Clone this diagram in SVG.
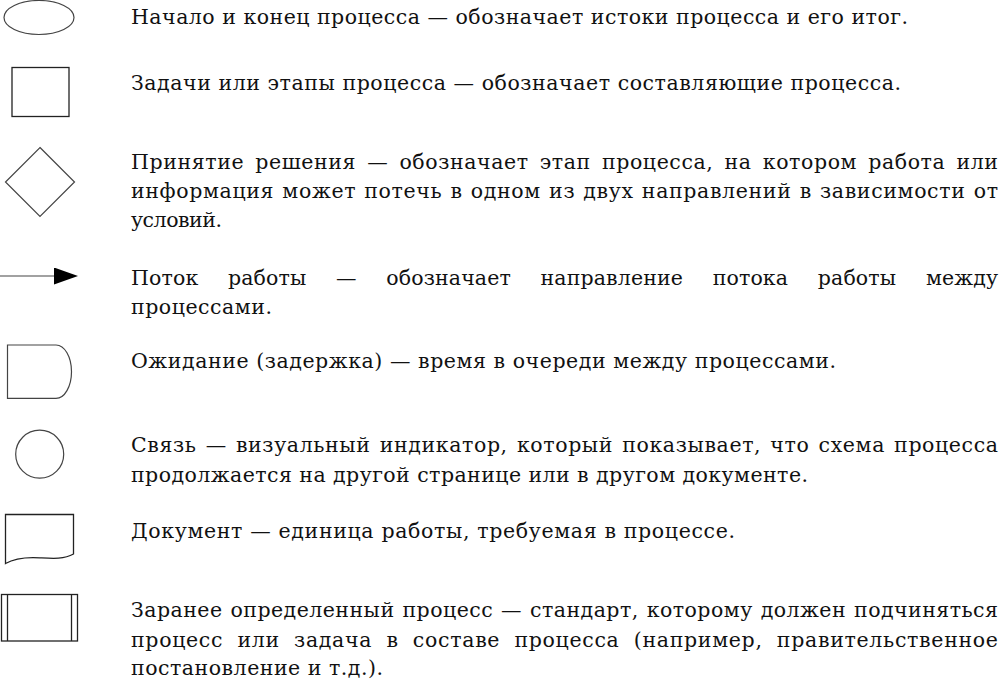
<svg xmlns="http://www.w3.org/2000/svg" width="1000" height="681" viewBox="0 0 1000 681">
<defs>
<style>
.sym{fill:#fff;stroke:#444;stroke-width:1.2}
.box{fill:#fff;stroke:#222;stroke-width:1.3}
.t{font-family:"DejaVu Serif","Liberation Serif",serif;font-size:20.5px;fill:#111}
.flow{stroke:#444;stroke-width:1.2;fill:none}
</style>
<marker id="ah" markerUnits="userSpaceOnUse" markerWidth="24" markerHeight="17" viewBox="0 0 24 17" refX="0" refY="8.5" orient="auto">
<path d="M0,0 L24,8.5 L0,17 Z" fill="#000"/>
</marker>
</defs>
<rect width="1000" height="681" fill="#fff"/>

<g id="terminator">
<ellipse class="sym" cx="39" cy="17.5" rx="35" ry="17"/>
<text class="t" x="131" y="24" textLength="777" lengthAdjust="spacing">Начало и конец процесса — обозначает истоки процесса и его итог.</text>
</g>

<g id="process">
<rect class="box" x="12" y="67.5" width="57" height="49"/>
<text class="t" x="131" y="90" textLength="770" lengthAdjust="spacing">Задачи или этапы процесса — обозначает составляющие процесса.</text>
</g>

<g id="decision">
<polygon class="sym" points="40,147.5 74.5,182 40,216.5 5.5,182"/>
<text class="t" x="131" y="169" word-spacing="4" textLength="867" lengthAdjust="spacing">Принятие решения — обозначает этап процесса, на котором работа или</text>
<text class="t" x="131" y="198" word-spacing="1" textLength="867" lengthAdjust="spacing">информация может потечь в одном из двух направлений в зависимости от</text>
<text class="t" x="131" y="227" textLength="91" lengthAdjust="spacing">условий.</text>
</g>

<g id="connectors">
<line class="flow" x1="0" y1="276" x2="54" y2="276" marker-end="url(#ah)"/>
</g>

<g id="flow-text">
<text class="t" x="131" y="285" word-spacing="23" textLength="867" lengthAdjust="spacing">Поток работы — обозначает направление потока работы между</text>
<text class="t" x="131" y="314" textLength="141" lengthAdjust="spacing">процессами.</text>
</g>

<g id="delay">
<path class="sym" d="M7.5,345 H56 A15.5,26.7 0 0 1 56,398.4 H7.5 Z"/>
<text class="t" x="131" y="368" textLength="705" lengthAdjust="spacing">Ожидание (задержка) — время в очереди между процессами.</text>
</g>

<g id="connector">
<circle class="sym" cx="39.7" cy="454.2" r="24"/>
<text class="t" x="131" y="452" word-spacing="2" textLength="867" lengthAdjust="spacing">Связь — визуальный индикатор, который показывает, что схема процесса</text>
<text class="t" x="131" y="482" textLength="677" lengthAdjust="spacing">продолжается на другой странице или в другом документе.</text>
</g>

<g id="document">
<path class="box" d="M5.5,514.5 H73.5 V554 C64,559.5 52,558.5 40,557.8 C27,557 15,558 5.5,563.5 Z"/>
<text class="t" x="131" y="538" textLength="604" lengthAdjust="spacing">Документ — единица работы, требуемая в процессе.</text>
</g>

<g id="predefined">
<rect class="box" x="1.5" y="594.5" width="76" height="46.5"/>
<line class="box" x1="7.5" y1="594.5" x2="7.5" y2="641"/>
<line class="box" x1="71.5" y1="594.5" x2="71.5" y2="641"/>
<text class="t" x="131" y="617" word-spacing="1" textLength="867" lengthAdjust="spacing">Заранее определенный процесс — стандарт, которому должен подчиняться</text>
<text class="t" x="131" y="647" word-spacing="7" textLength="867" lengthAdjust="spacing">процесс или задача в составе процесса (например, правительственное</text>
<text class="t" x="131" y="675" textLength="252" lengthAdjust="spacing">постановление и т.д.).</text>
</g>
</svg>
